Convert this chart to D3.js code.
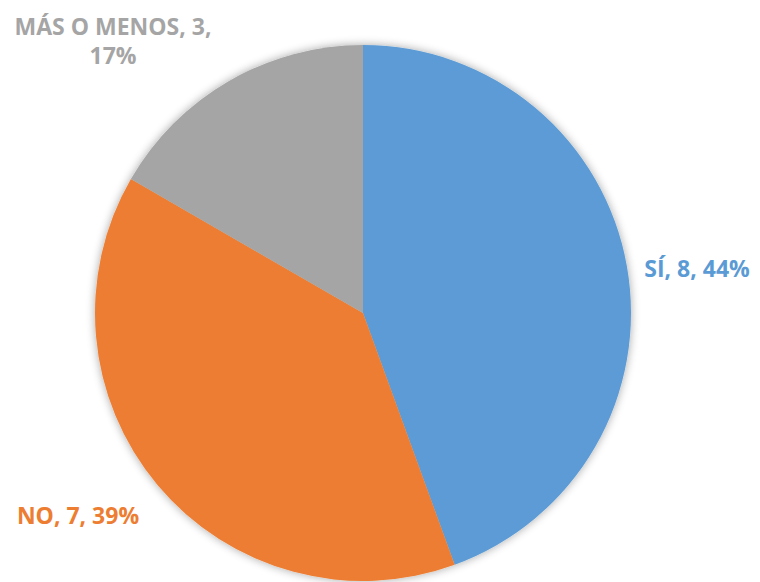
<!DOCTYPE html>
<html><head><meta charset="utf-8">
<script src="https://cdn.jsdelivr.net/npm/d3@7"></script>
<style>html,body{margin:0;padding:0;background:#fff;}</style>
</head><body>
<svg id="c" width="760" height="582"></svg>
<script>
const categories = ["SÍ", "NO", "MÁS O MENOS"];
const values = [8, 7, 3];
const percents = ["44%", "39%", "17%"];
const colors = ["#5B9BD5", "#ED7D31", "#A5A5A5"];

const svg = d3.select("#c");
const cx = 363, cy = 313, r = 268;
const defs = svg.append("defs");
const f = defs.append("filter").attr("id","sh").attr("x","-20%").attr("y","-20%").attr("width","140%").attr("height","140%");
f.append("feGaussianBlur").attr("in","SourceAlpha").attr("stdDeviation",5).attr("result","b");
f.append("feComponentTransfer").attr("in","b").attr("result","t").append("feFuncA").attr("type","linear").attr("slope",0.35);
const m = f.append("feMerge"); m.append("feMergeNode").attr("in","t"); m.append("feMergeNode").attr("in","SourceGraphic");

const pie = d3.pie().sort(null).value(d => d)(values);
const arc = d3.arc().innerRadius(0).outerRadius(r);
const g = svg.append("g").attr("transform", `translate(${cx},${cy})`).attr("filter","url(#sh)");
g.selectAll("path").data(pie).join("path").attr("d", arc).attr("fill", (d,i) => colors[i]);

const labelPos = [[697, 268], [78, 515], [113, 26]];
const lab = svg.append("g").attr("font-family","'Open Sans', sans-serif").attr("font-weight","bold").attr("font-size","23px");
categories.forEach((c, i) => {
  const [x, y] = labelPos[i];
  if (i === 2) {
    lab.append("text").attr("x", x).attr("y", y).attr("text-anchor","middle").attr("dominant-baseline","central").attr("fill", colors[i]).text(`${c}, ${values[i]},`);
    lab.append("text").attr("x", x).attr("y", y + 29).attr("text-anchor","middle").attr("dominant-baseline","central").attr("fill", colors[i]).text(percents[i]);
  } else {
    lab.append("text").attr("x", x).attr("y", y).attr("text-anchor","middle").attr("dominant-baseline","central").attr("fill", colors[i]).text(`${c}, ${values[i]}, ${percents[i]}`);
  }
});
</script>
</body></html>
